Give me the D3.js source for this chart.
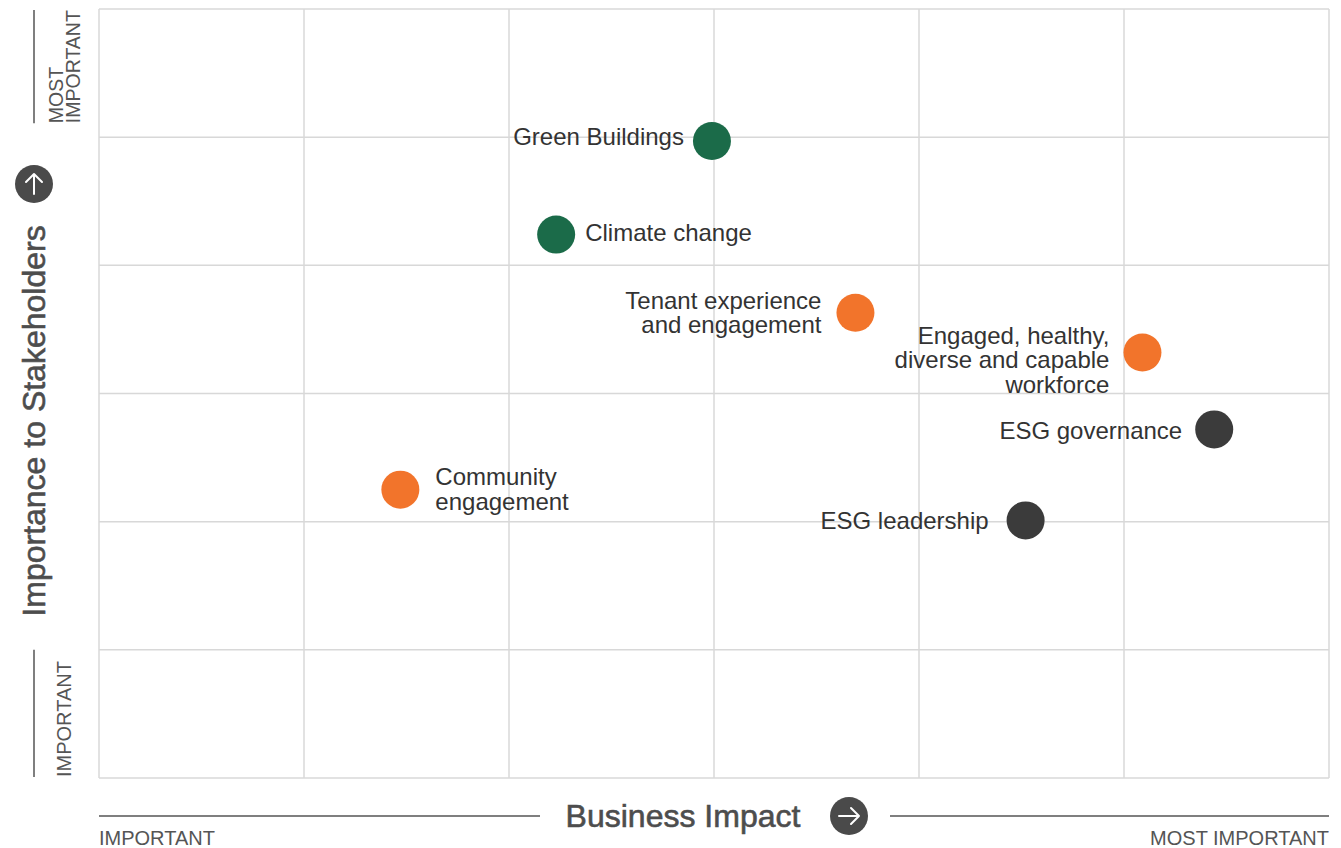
<!DOCTYPE html>
<html>
<head>
<meta charset="utf-8">
<script src="https://cdn.jsdelivr.net/npm/d3@7"></script>
<style>
  body { margin: 0; background: #fff; }
  svg { display: block; font-family: "Liberation Sans", Arial, sans-serif; }
</style>
</head>
<body>
<div id="chart"></div>
<script>
// materiality topics
var topics = [
  ["Green Buildings"],
  ["Climate change"],
  ["Tenant experience", "and engagement"],
  ["Engaged, healthy,", "diverse and capable", "workforce"],
  ["ESG governance"],
  ["Community", "engagement"],
  ["ESG leadership"]
];
var businessImpact = [2.99, 2.23, 3.69, 5.09, 5.44, 1.47, 4.52];
var stakeholderImportance = [4.97, 4.24, 3.63, 3.32, 2.72, 2.25, 2.01];
var pillar = ["environment", "environment", "social", "social", "governance", "social", "governance"];
var pillars = ["environment", "social", "governance"];
var gridTicks = [0, 1, 2, 3, 4, 5, 6];

// label placement (layout only): horizontal gap from dot centre (neg = left), vertical nudge
var labelDx = [-28, 29, -34, -33, -32, 35, -37];
var labelDy = [-4, -2, 0, 8, 2, 0, 1];

var W = 1341, H = 848;
var m = {left: 99, right: 12, top: 9, bottom: 70};

var svg = d3.select("#chart").append("svg")
    .attr("width", W)
    .attr("height", H);

var x = d3.scaleLinear().domain([0, 6]).range([m.left, W - m.right]);
var y = d3.scaleLinear().domain([0, 6]).range([H - m.bottom, m.top]);
var color = d3.scaleOrdinal().domain(pillars).range(["#1b6b49", "#f2742b", "#3b3b3b"]);

var grid = svg.append("g").attr("stroke", "#d8d8d8").attr("stroke-width", 1.5);
grid.selectAll(".vx").data(gridTicks).enter().append("line")
    .attr("x1", d => x(d)).attr("x2", d => x(d))
    .attr("y1", y(0)).attr("y2", y(6));
grid.selectAll(".hy").data(gridTicks).enter().append("line")
    .attr("y1", d => y(d)).attr("y2", d => y(d))
    .attr("x1", x(0)).attr("x2", x(6));

var txtCol = "#333333";
var axCol = "#555555";

// x axis decoration
var xl = H - 32;
svg.append("line").attr("x1", x(0)).attr("x2", 540).attr("y1", xl).attr("y2", xl)
    .attr("stroke", axCol).attr("stroke-width", 1.5);
svg.append("line").attr("x1", 890).attr("x2", x(6)).attr("y1", xl).attr("y2", xl)
    .attr("stroke", axCol).attr("stroke-width", 1.5);
svg.append("text").attr("x", 683).attr("y", xl + 11)
    .attr("text-anchor", "middle").attr("font-size", 32).attr("fill", "#4d4d4d")
    .attr("stroke", "#4d4d4d").attr("stroke-width", 0.6)
    .text("Business Impact");
svg.append("text").attr("x", x(0)).attr("y", H - 3)
    .attr("font-size", 20).attr("fill", axCol).text("IMPORTANT");
svg.append("text").attr("x", x(6)).attr("y", H - 3).attr("text-anchor", "end")
    .attr("font-size", 20).attr("fill", axCol).text("MOST IMPORTANT");

// arrow icon
function arrowIcon(cx, cy, angle) {
  var g = svg.append("g").attr("transform", "translate(" + cx + "," + cy + ") rotate(" + angle + ")");
  g.append("circle").attr("r", 19).attr("fill", "#4a4a4a");
  g.append("path").attr("d", "M-10,0 L10,0 M2,-8 L10,0 L2,8")
    .attr("fill", "none").attr("stroke", "#fff").attr("stroke-width", 2)
    .attr("stroke-linecap", "round").attr("stroke-linejoin", "round");
}
arrowIcon(849, xl, 0);
arrowIcon(34, 184, -90);

// y axis decoration
var ax = 34;
svg.append("line").attr("x1", ax).attr("x2", ax).attr("y1", y(6) + 1).attr("y2", y(5) - 14)
    .attr("stroke", axCol).attr("stroke-width", 1.5);
svg.append("line").attr("x1", ax).attr("x2", ax).attr("y1", y(1)).attr("y2", y(0) - 1)
    .attr("stroke", axCol).attr("stroke-width", 1.5);
svg.append("text").attr("transform", "translate(45,421) rotate(-90)")
    .attr("text-anchor", "middle").attr("font-size", 32).attr("fill", "#4d4d4d")
    .attr("stroke", "#4d4d4d").attr("stroke-width", 0.6)
    .text("Importance to Stakeholders");
var most = svg.append("text").attr("transform", "translate(63," + (y(5) - 14) + ") rotate(-90)")
    .attr("font-size", 19.5).attr("fill", axCol);
most.append("tspan").attr("x", 0).attr("dy", 0).text("MOST");
most.append("tspan").attr("x", 0).attr("dy", 17).text("IMPORTANT");
svg.append("text").attr("transform", "translate(71," + (y(0) - 1) + ") rotate(-90)")
    .attr("font-size", 20).attr("fill", axCol).text("IMPORTANT");

// points
var pts = topics.map((t, i) => ({
  lines: t, bx: businessImpact[i], sy: stakeholderImportance[i],
  p: pillar[i], dx: labelDx[i], dy: labelDy[i]
}));

var node = svg.append("g").selectAll("g").data(pts).enter().append("g")
    .attr("transform", d => "translate(" + x(d.bx) + "," + y(d.sy) + ")");
node.append("circle").attr("r", 19).attr("fill", d => color(d.p));
var lh = 24.5;
node.append("text")
    .attr("text-anchor", d => d.dx < 0 ? "end" : "start")
    .attr("font-size", 24).attr("fill", txtCol)
    .each(function(d) {
      var t = d3.select(this);
      var n = d.lines.length;
      d.lines.forEach((s, k) => {
        t.append("tspan")
          .attr("x", d.dx)
          .attr("y", (k - (n - 1) / 2) * lh + 8 + d.dy)
          .text(s);
      });
    });
</script>
</body>
</html>
